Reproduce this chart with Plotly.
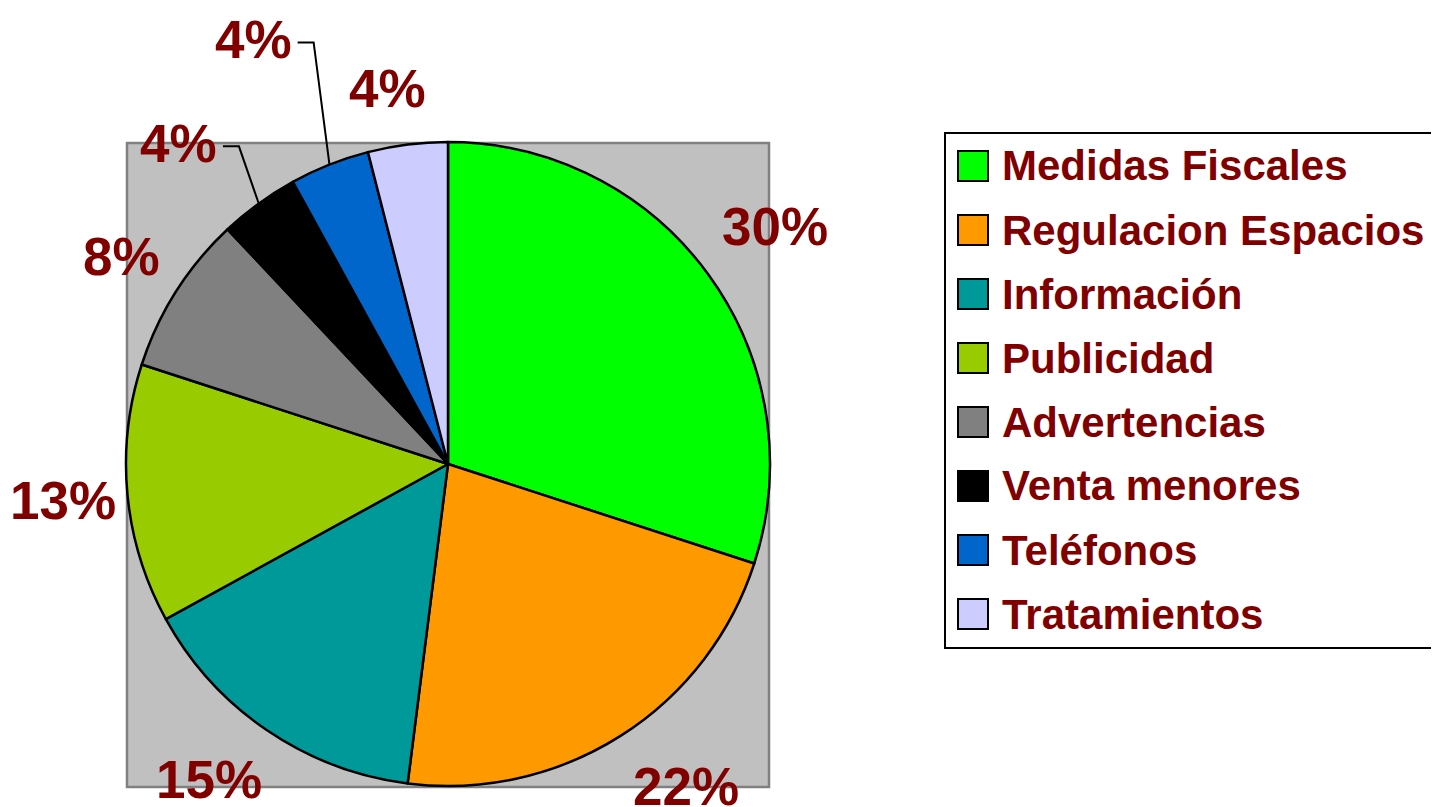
import math
import plotly.graph_objects as go

# ---- data ----
labels = ["Medidas Fiscales", "Regulacion Espacios", "Información", "Publicidad",
          "Advertencias", "Venta menores", "Teléfonos", "Tratamientos"]
values = [30, 22, 15, 13, 8, 4, 4, 4]
colors = ["#00FF00", "#FF9900", "#009999", "#99CC00",
          "#808080", "#000000", "#0066CC", "#CCCCFF"]

# ---- layout constants (pixels, in screen coordinates) ----
OFF = 8  # default page body margin
W, H = 1439 - OFF, 807 - OFF
CX, CY, R = 448, 464, 322
TXT = "#800000"
FONT = "Liberation Sans, Arial, sans-serif"

# label placement style: (radial factor, angle shift in degrees, leader line?)
label_style = [(1.255, 0, False), (1.245, -4, False), (1.23, 3, False), (1.2, 0, False),
               (1.2, 0, False), (1.30, -4, True), (1.45, -3, True), (1.18, -2, False)]


def px(x):
    return (x - OFF) / W


def py(y):
    return 1 - (y - OFF) / H


fig = go.Figure()
fig.add_trace(go.Pie(
    labels=labels, values=values, sort=False, direction="clockwise", rotation=0,
    marker=dict(colors=colors, line=dict(color="#000000", width=2.5)),
    textinfo="none", showlegend=False,
    domain=dict(x=[px(CX - R), px(CX + R)], y=[py(CY + R), py(CY - R)]),
))

shapes = []
annotations = []

# gray plot-area background
shapes.append(dict(type="rect", xref="paper", yref="paper", layer="below",
                   x0=px(127), x1=px(769), y0=py(787), y1=py(143),
                   fillcolor="#C0C0C0", line=dict(color="#808080", width=2.5)))

# percentage labels computed from the data
total = sum(values)
cum = 0
for v, (fac, dang, leader) in zip(values, label_style):
    mid = (cum + v / 2) / total * 360
    cum += v
    pct = round(v / total * 100)
    a = math.radians(mid + dang)
    lx = CX + fac * R * math.sin(a)
    ly = CY - fac * R * math.cos(a)
    annotations.append(dict(x=px(lx), y=py(ly), xref="paper", yref="paper",
                            text=f"<b>{pct}%</b>", showarrow=False,
                            xanchor="center", yanchor="middle",
                            font=dict(family=FONT, size=53, color=TXT)))
    if leader:
        am = math.radians(mid)
        ex = CX + R * math.sin(am)
        ey = CY - R * math.cos(am)
        path = (f"M {px(ex)} {py(ey)} L {px(lx + 60)} {py(ly + 3)} "
                f"L {px(lx + 44)} {py(ly + 3)}")
        shapes.append(dict(type="path", xref="paper", yref="paper", path=path,
                           line=dict(color="#000000", width=2)))

# legend box built from labels/colors
shapes.append(dict(type="rect", xref="paper", yref="paper",
                   x0=px(945), x1=px(1441), y0=py(648), y1=py(133),
                   fillcolor="#FFFFFF", line=dict(color="#000000", width=2)))
for i, (lab, col) in enumerate(zip(labels, colors)):
    yc = 166 + 64 * i
    shapes.append(dict(type="rect", xref="paper", yref="paper",
                       x0=px(958), x1=px(988), y0=py(yc + 15), y1=py(yc - 15),
                       fillcolor=col, line=dict(color="#000000", width=2)))
    annotations.append(dict(x=px(1000), y=py(yc), xref="paper", yref="paper",
                            text=f"<b>{lab}</b>", showarrow=False,
                            xanchor="left", yanchor="middle",
                            font=dict(family=FONT, size=42, color=TXT)))

fig.update_layout(
    width=W, height=H, margin=dict(l=0, r=0, t=0, b=0),
    paper_bgcolor="#FFFFFF", plot_bgcolor="#FFFFFF",
    shapes=shapes, annotations=annotations, showlegend=False,
)

fig.write_html("out.html")
